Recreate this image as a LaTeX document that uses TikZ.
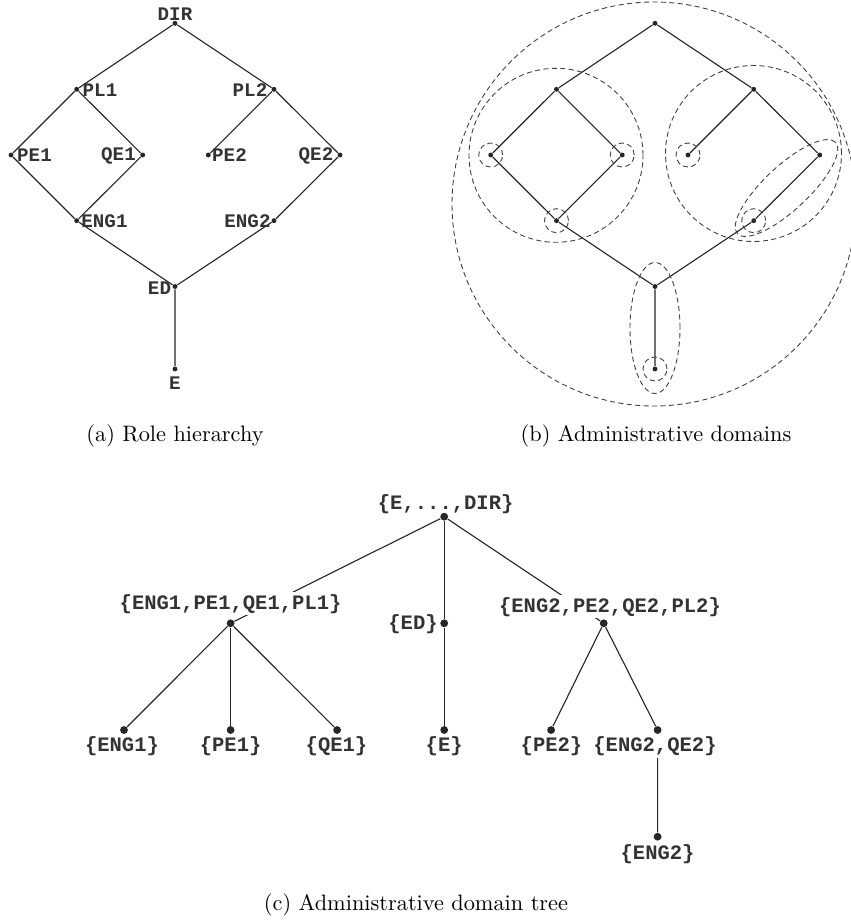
\documentclass[tikz,border=0pt]{standalone}
\usepackage{fontspec}
\newfontfamily\labfont{Liberation Mono}
\pgfdeclarelayer{edgelayer}
\pgfdeclarelayer{labellayer}
\pgfsetlayers{edgelayer,labellayer,main}
\begin{document}
\begin{tikzpicture}[x=0.448pt,y=0.448pt,
  conn/.style={draw=black!85,line width=0.5pt},
  rdot/.style={circle,fill=black!85,inner sep=0pt,minimum size=2.2pt},
  tdot/.style={circle,fill=black!85,inner sep=0pt,minimum size=3.5pt},
  rlab/.style={font=\labfont\bfseries\fontsize{8.6}{10}\selectfont,inner sep=0pt,text=black!80},
  tlab/.style={font=\labfont\bfseries\fontsize{9.2}{11}\selectfont,inner sep=0.6pt,
    text height=0.72em,text depth=0.2em,fill=white,text=black!80},
  dom/.style={draw=black!75,line width=0.4pt,dash pattern=on 2.3pt off 1.5pt},
  captext/.style={font=\fontsize{10}{12}\selectfont,anchor=base,inner sep=0pt}]
\useasboundingbox (0,0) rectangle (851,-922);

% ---------------- (a) Role hierarchy ----------------
\node[rdot] (aDIR) at (175,-23.3) {};
\node[rdot] (aPL1) at (76.7,-89.3) {};
\node[rdot] (aPL2) at (274,-89.3) {};
\node[rdot] (aPE1) at (11,-155) {};
\node[rdot] (aQE1) at (142.7,-155) {};
\node[rdot] (aPE2) at (208.3,-155) {};
\node[rdot] (aQE2) at (340,-155) {};
\node[rdot] (aENG1) at (76.7,-220.7) {};
\node[rdot] (aENG2) at (274,-220.7) {};
\node[rdot] (aED) at (175,-286.5) {};
\node[rdot] (aE) at (175,-369) {};
\begin{pgfonlayer}{edgelayer}
\draw[conn] (aDIR) -- (aPL1) -- (aPE1) -- (aENG1) -- (aED) -- (aE);
\draw[conn] (aPL1) -- (aQE1) -- (aENG1);
\draw[conn] (aDIR) -- (aPL2) -- (aQE2) -- (aENG2) -- (aED);
\draw[conn] (aPL2) -- (aPE2);
\end{pgfonlayer}
\node[rlab] (aDIRl) at (175,-14) {DIR};
\node[rlab] (aPL1l) at (100,-90) {PL1};
\node[rlab] (aPL2l) at (250,-90) {PL2};
\node[rlab] (aPE1l) at (34.5,-155.5) {PE1};
\node[rlab] (aQE1l) at (118.5,-155.5) {QE1};
\node[rlab] (aPE2l) at (229.5,-155.5) {PE2};
\node[rlab] (aQE2l) at (316,-155.5) {QE2};
\node[rlab] (aENG1l) at (104.5,-221) {ENG1};
\node[rlab] (aENG2l) at (247.5,-221) {ENG2};
\node[rlab] (aEDl) at (159.5,-288) {ED};
\node[rlab] (aEl) at (175,-383) {E};
\node[captext] (capa) at (175,-441) {(a) Role hierarchy};

% ---------------- (b) Administrative domains ----------------
\node[rdot] (bDIR) at (655,-23.3) {};
\node[rdot] (bPL1) at (556.5,-89.3) {};
\node[rdot] (bPL2) at (753.7,-89.3) {};
\node[rdot] (bPE1) at (490.7,-155) {};
\node[rdot] (bQE1) at (622.2,-155) {};
\node[rdot] (bPE2) at (688,-155) {};
\node[rdot] (bQE2) at (819.7,-155) {};
\node[rdot] (bENG1) at (556.5,-220.7) {};
\node[rdot] (bENG2) at (753.7,-220.7) {};
\node[rdot] (bED) at (655,-286.5) {};
\node[rdot] (bE) at (655,-369) {};
\begin{pgfonlayer}{edgelayer}
\draw[conn] (bDIR) -- (bPL1) -- (bPE1) -- (bENG1) -- (bED) -- (bE);
\draw[conn] (bPL1) -- (bQE1) -- (bENG1);
\draw[conn] (bDIR) -- (bPL2) -- (bQE2) -- (bENG2) -- (bED);
\draw[conn] (bPL2) -- (bPE2);
\end{pgfonlayer}
\draw[dom] (654,-204) circle[radius=202];
\draw[dom] (556,-155.3) circle[radius=87];
\draw[dom] (753.5,-153.5) circle[radius=88];
\draw[dom] (bPE1) circle[radius=12];
\draw[dom] (bQE1) circle[radius=12];
\draw[dom] (bENG1) circle[radius=12];
\draw[dom] (bPE2) circle[radius=12];
\draw[dom] (bENG2) circle[radius=12];
\draw[dom] (bE) circle[radius=12];
\draw[dom,rotate around={43:(786.5,-188)}] (786.5,-188) ellipse[x radius=67,y radius=22];
\draw[dom] (655,-328) ellipse[x radius=25,y radius=65.5];
\node[captext] (capb) at (656,-441) {(b) Administrative domains};

% ---------------- (c) Administrative domain tree ----------------
\node[tdot] (cR) at (444.2,-516.7) {};
\node[tdot] (cL) at (230.6,-623.3) {};
\node[tdot] (cED) at (444.2,-623.3) {};
\node[tdot] (cRt) at (603.7,-623.3) {};
\node[tdot] (cENG1) at (124,-730) {};
\node[tdot] (cPE1) at (230.6,-730) {};
\node[tdot] (cQE1) at (337.1,-730) {};
\node[tdot] (cE) at (444.2,-730) {};
\node[tdot] (cPE2) at (551.1,-730) {};
\node[tdot] (cEQ) at (657.6,-730) {};
\node[tdot] (cENG2) at (657.6,-836.7) {};
\begin{pgfonlayer}{edgelayer}
\draw[conn] (cR) -- (cL);
\draw[conn] (cR) -- (cED) -- (cE);
\draw[conn] (cR) -- (cRt);
\draw[conn] (cL) -- (cENG1);
\draw[conn] (cL) -- (cPE1);
\draw[conn] (cL) -- (cQE1);
\draw[conn] (cRt) -- (cPE2);
\draw[conn] (cRt) -- (cEQ) -- (cENG2);
\end{pgfonlayer}
\begin{pgfonlayer}{labellayer}
\node[tlab] (cRl) at (445.7,-504) {\{E,...,DIR\}};
\node[tlab] (cLl) at (230.6,-603.3) {\{ENG1,PE1,QE1,PL1\}};
\node[tlab] (cEDl) at (413,-623.3) {\{ED\}};
\node[tlab] (cRtl) at (610,-606.7) {\{ENG2,PE2,QE2,PL2\}};
\node[tlab] (cENG1l) at (122,-746) {\{ENG1\}};
\node[tlab] (cPE1l) at (230.6,-746) {\{PE1\}};
\node[tlab] (cQE1l) at (336.5,-746) {\{QE1\}};
\node[tlab] (cEl) at (444.2,-746) {\{E\}};
\node[tlab] (cPE2l) at (551.5,-746) {\{PE2\}};
\node[tlab] (cEQl) at (655,-746) {\{ENG2,QE2\}};
\node[tlab] (cENG2l) at (657.6,-853.3) {\{ENG2\}};
\end{pgfonlayer}
\node[captext] (capc) at (416,-910) {(c) Administrative domain tree};
\end{tikzpicture}
\end{document}
